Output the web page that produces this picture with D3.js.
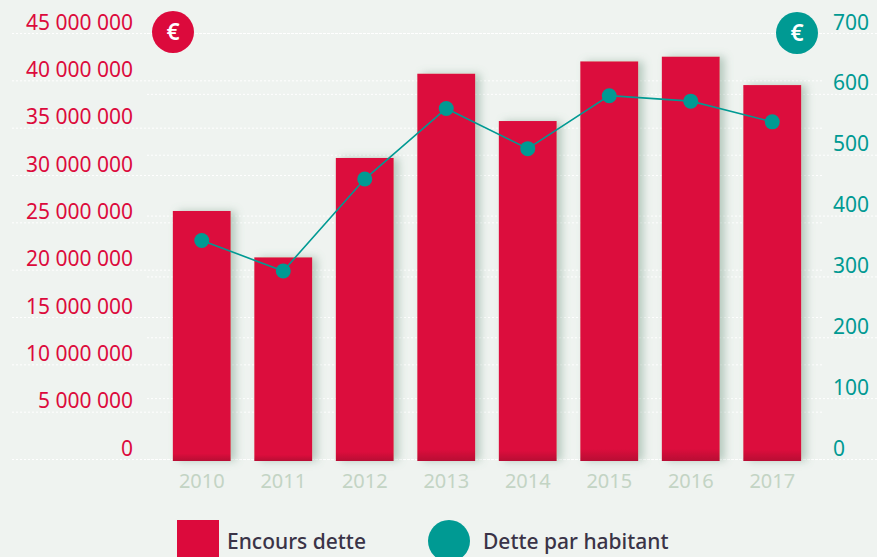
<!DOCTYPE html>
<html>
<head>
    <meta charset="utf-8">
    <title>Dette</title>
    <style>
        body { margin: 0; background: #eff3f0; }
        svg { display: block; font-family: "Noto Sans", sans-serif; }
        .grid line { stroke: #ffffff; stroke-width: 1; stroke-dasharray: 2,2; }
        .grid .domain { display: none; }
    </style>
</head>
<body>
    <svg width="877" height="557"></svg>
    <script src="https://cdnjs.cloudflare.com/ajax/libs/d3/7.8.5/d3.min.js"></script>
    <script>
        // données
        const years = ["2010", "2011", "2012", "2013", "2014", "2015", "2016", "2017"];
        const encours = [26200000, 21300000, 31800000, 40700000, 35700000, 42000000, 42500000, 39500000];
        const parHabitant = [359, 309, 460, 576, 510, 597, 588, 554];
        const leftTicks = [0, 5000000, 10000000, 15000000, 20000000, 25000000, 30000000, 35000000, 40000000, 45000000];
        const rightTicks = [0, 100, 200, 300, 400, 500, 600, 700];

        const red = "#dc0a3c", teal = "#009a93";
        const svg = d3.select("svg");

        const fr = d3.formatLocale({ thousands: " ", grouping: [3], decimal: ",", currency: ["", " €"] });

        const x = d3.scaleBand().domain(years).range([161, 813]).paddingInner(0.29).paddingOuter(0.145);
        const yLeft = d3.scaleLinear().domain([0, 45000000]).range([459, 33]);
        const yRight = d3.scaleLinear().domain([0, 700]).range([459, 33]);

        // ombre portée des barres
        const defs = svg.append("defs");
        const f = defs.append("filter").attr("id", "shadow")
            .attr("x", "-20%").attr("y", "-5%").attr("width", "160%").attr("height", "110%");
        f.append("feDropShadow").attr("dx", 5).attr("dy", 0).attr("stdDeviation", 4)
            .attr("flood-color", "#6f9580").attr("flood-opacity", 0.45);
        const grad = defs.append("linearGradient").attr("id", "barGrad")
            .attr("x1", 0).attr("y1", 0).attr("x2", 0).attr("y2", 1);
        grad.append("stop").attr("offset", "0%").attr("stop-color", red);
        grad.append("stop").attr("offset", "97%").attr("stop-color", red);
        grad.append("stop").attr("offset", "100%").attr("stop-color", "#b80934");

        // grilles + libellés
        const gLeft = svg.append("g").attr("class", "grid")
            .attr("transform", "translate(12,0)")
            .call(d3.axisLeft(yLeft).tickValues(leftTicks).tickSize(-811).tickFormat(fr.format(",")));
        gLeft.selectAll("text")
            .attr("x", 121).attr("dy", -4).attr("dominant-baseline", "auto")
            .attr("text-anchor", "end").attr("fill", red)
            .style("font-size", "21px").style("font-family", "Noto Sans");

        const gRight = svg.append("g").attr("class", "grid")
            .attr("transform", "translate(877,0)")
            .call(d3.axisRight(yRight).tickValues(rightTicks).tickSize(-732));
        gRight.selectAll("text")
            .attr("x", -44).attr("dy", -4).attr("dominant-baseline", "auto")
            .attr("text-anchor", "start").attr("fill", teal)
            .style("font-size", "21px").style("font-family", "Noto Sans");

        // barres
        svg.append("g").selectAll("rect")
            .data(years)
            .join("rect")
            .attr("x", d => x(d))
            .attr("width", x.bandwidth())
            .attr("y", (d, i) => yLeft(encours[i]))
            .attr("height", (d, i) => yLeft(0) - yLeft(encours[i]) + 2)
            .attr("fill", "url(#barGrad)")
            .attr("filter", "url(#shadow)");

        // axe des années
        const gx = svg.append("g")
            .attr("transform", "translate(0,461)")
            .call(d3.axisBottom(x).tickSize(0).tickPadding(13));
        gx.select(".domain").remove();
        gx.selectAll("text").attr("fill", "#c3d4c4")
            .style("font-size", "20px").style("font-family", "Noto Sans");

        // ligne dette par habitant
        const line = d3.line()
            .x((d, i) => x(years[i]) + x.bandwidth() / 2)
            .y(d => yRight(d));
        svg.append("path").datum(parHabitant)
            .attr("d", line).attr("fill", "none")
            .attr("stroke", teal).attr("stroke-width", 1.6);
        svg.append("g").selectAll("circle")
            .data(parHabitant)
            .join("circle")
            .attr("cx", (d, i) => x(years[i]) + x.bandwidth() / 2)
            .attr("cy", d => yRight(d))
            .attr("r", 7.5)
            .attr("fill", teal);

        // pastilles euro
        [[173, 32, red], [797, 33, teal]].forEach(b => {
            svg.append("circle").attr("cx", b[0]).attr("cy", b[1]).attr("r", 21).attr("fill", b[2]);
            svg.append("text").attr("x", b[0]).attr("y", b[1] + 8)
                .attr("text-anchor", "middle").attr("fill", "#ffffff")
                .style("font-size", "23px").style("font-weight", "600").text("€");
        });

        // légende
        const legend = svg.append("g").style("font-size", "21px").style("font-weight", "500").attr("fill", "#3a3347");
        legend.append("rect").attr("x", 177).attr("y", 520).attr("width", 42).attr("height", 40).attr("fill", red);
        legend.append("text").attr("x", 227).attr("y", 549).text("Encours dette");
        legend.append("circle").attr("cx", 449).attr("cy", 541).attr("r", 21).attr("fill", teal);
        legend.append("text").attr("x", 483).attr("y", 549).text("Dette par habitant");
    </script>
</body>
</html>
